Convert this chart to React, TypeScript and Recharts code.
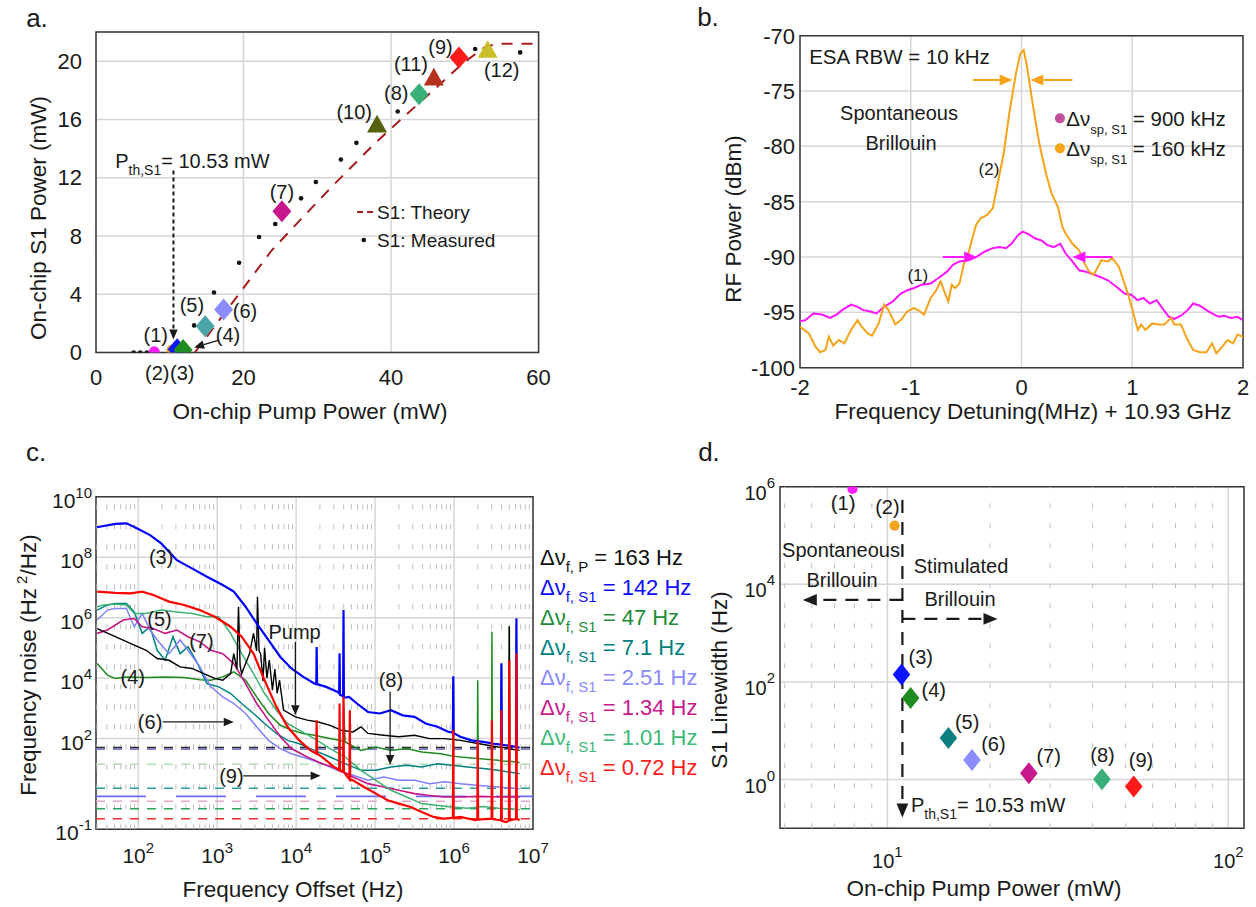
import React from 'react';
import {
  ComposedChart, Line, Scatter, XAxis, YAxis, CartesianGrid,
  ReferenceLine, ReferenceDot, ReferenceArea,
} from 'recharts';

const FONT = '"Liberation Sans", Arial, Helvetica, sans-serif';
const INK = '#1a1a1a';
const GRID = '#d6d6d6';
const FRAME = '#3a3a3a';

// ---------------- a. S1 power vs pump power ----------------
const measuredPump = [5.1, 6.0, 6.9, 13.3, 16.0, 19.4, 22.1, 24.3, 27.8, 29.8, 33.2, 35.3, 40.9, 51.4, 57.5];
const measuredS1 = [0, 0, 0, 1.86, 4.12, 6.16, 7.93, 8.82, 10.58, 11.7, 13.24, 14.39, 16.54, 20.83, 20.6];
const theoryPump = [13.4, 19.5, 23.8, 27.7, 32.0, 37.8, 40.7, 46.8, 49.6, 52.8, 54.7, 60];
const theoryS1 = [0, 4.1, 7.0, 9.1, 11.4, 14.35, 15.7, 18.5, 19.8, 21.0, 21.2, 21.2];
const markerTagsA = ['(1)', '(2)', '(3)', '(4)', '(5)', '(6)', '(7)', '(10)', '(8)', '(11)', '(9)', '(12)'];
const markerPumpA = [7.9, 10.3, 11.0, 11.8, 14.8, 17.3, 25.2, 38.1, 43.8, 45.8, 49.2, 53.1];
const markerS1A = [0.05, 0.17, 0.23, 0.17, 1.81, 2.95, 9.7, 15.67, 17.72, 18.9, 20.25, 20.8];

// ---------------- b. RF spectra ----------------
const spectrumStim: [number, number][] = [
  [-2, -96.3], [-1.92, -96.9], [-1.86, -98.1], [-1.82, -98.6], [-1.77, -98.4], [-1.74, -97.2], [-1.7, -98.0],
  [-1.65, -97.5], [-1.6, -97.8], [-1.54, -96.6], [-1.48, -95.7], [-1.45, -96.2], [-1.39, -96.9], [-1.35, -97.1],
  [-1.29, -96.0], [-1.24, -94.3], [-1.2, -94.8], [-1.14, -96.1], [-1.09, -95.7], [-1.03, -94.9], [-0.97, -94.6],
  [-0.92, -94.9], [-0.88, -95.2], [-0.82, -93.7], [-0.77, -93.0], [-0.73, -92.2], [-0.69, -93.3], [-0.66, -94.0],
  [-0.63, -92.5], [-0.6, -92.8], [-0.56, -92.4], [-0.52, -90.6], [-0.48, -89.7], [-0.45, -88.5], [-0.41, -87.1],
  [-0.37, -86.5], [-0.31, -86.2], [-0.26, -85.6], [-0.22, -83.6], [-0.16, -80.6], [-0.11, -77.0], [-0.05, -73.4],
  [-0.01, -71.6], [0.02, -71.3], [0.05, -72.8], [0.1, -76.1], [0.16, -79.7], [0.22, -82.4], [0.27, -84.2],
  [0.33, -85.5], [0.37, -87.3], [0.4, -87.9], [0.46, -88.8], [0.52, -89.4], [0.57, -90.6], [0.61, -91.3],
  [0.65, -91.6], [0.69, -90.9], [0.72, -90.3], [0.78, -90.4], [0.82, -90.1], [0.88, -90.9], [0.93, -92.4],
  [0.97, -93.6], [1.01, -95.1], [1.05, -96.6], [1.08, -96.1], [1.12, -96.6], [1.18, -96.0], [1.23, -96.1],
  [1.29, -96.1], [1.35, -95.5], [1.38, -96.1], [1.44, -96.1], [1.5, -97.5], [1.55, -98.4], [1.61, -98.6],
  [1.67, -98.6], [1.72, -97.8], [1.76, -98.7], [1.82, -98.0], [1.86, -97.5], [1.91, -97.8], [1.95, -97.0], [2, -97.2],
];
const spectrumSpont: [number, number][] = [
  [-2, -95.8], [-1.95, -95.7], [-1.88, -95.1], [-1.8, -95.2], [-1.73, -95.5], [-1.67, -95.2], [-1.62, -94.8],
  [-1.54, -94.3], [-1.48, -94.5], [-1.43, -94.8], [-1.37, -94.9], [-1.31, -95.1], [-1.24, -94.5], [-1.16, -94.0],
  [-1.09, -93.3], [-1.03, -93.0], [-0.97, -92.8], [-0.9, -92.5], [-0.82, -92.4], [-0.75, -91.9], [-0.67, -91.3],
  [-0.62, -90.7], [-0.56, -90.4], [-0.48, -90.3], [-0.41, -90.0], [-0.33, -89.5], [-0.26, -89.2], [-0.2, -89.1],
  [-0.14, -89.2], [-0.09, -88.8], [-0.03, -88.0], [0.01, -87.7], [0.06, -87.9], [0.12, -88.3], [0.18, -88.5],
  [0.23, -88.9], [0.29, -89.1], [0.35, -88.8], [0.4, -89.7], [0.46, -90.4], [0.52, -91.2], [0.57, -91.3],
  [0.63, -91.5], [0.71, -91.8], [0.78, -92.1], [0.86, -92.7], [0.93, -93.3], [0.99, -93.4], [1.05, -93.9],
  [1.1, -93.7], [1.16, -94.2], [1.22, -93.9], [1.27, -94.6], [1.33, -95.4], [1.38, -95.6], [1.44, -95.3],
  [1.5, -94.8], [1.55, -94.2], [1.61, -94.4], [1.67, -94.8], [1.72, -95.1], [1.78, -95.4], [1.83, -95.3],
  [1.89, -95.5], [1.95, -95.4], [2, -95.7],
];
const linewidthLegendB = ['900 kHz', '160 kHz'];

// ---------------- c. frequency noise (log10 Hz, log10 Hz^2/Hz) ----------------
const noiseS1_4: [number, number][] = [
  [1.48, 4.48], [1.61, 4.1], [1.71, 3.99], [1.85, 4.04], [2.1, 4.02], [2.34, 4.04], [2.58, 4.02], [2.78, 3.95],
  [2.92, 3.93], [3.07, 4.04], [3.21, 4.21], [3.36, 3.93], [3.5, 3.38], [3.65, 2.83], [3.8, 2.44], [3.94, 2.28],
  [4.09, 2.17], [4.23, 2.11], [4.43, 2.0], [4.6, 1.92], [4.6, 3.2], [4.62, 1.89], [4.82, 1.61], [5.01, 1.72],
  [5.2, 1.61], [5.4, 1.67], [5.59, 1.56], [5.83, 1.5], [5.985, 1.42], [5.99, 3.99], [5.995, 1.42], [6.08, 1.39],
  [6.295, 1.34], [6.3, 3.93], [6.305, 1.34], [6.475, 1.3], [6.48, 5.53], [6.485, 1.3], [6.56, 1.28], [6.595, 1.27],
  [6.6, 4.4], [6.605, 1.26], [6.695, 1.25], [6.7, 5.72], [6.705, 1.25], [6.785, 1.23], [6.79, 5.48], [6.795, 1.23],
  [6.83, 1.2],
];
const noiseS1_5: [number, number][] = [
  [1.48, 6.25], [1.61, 6.42], [1.71, 6.47], [1.85, 6.47], [1.95, 6.19], [2.05, 5.48], [2.15, 5.7], [2.24, 4.92],
  [2.34, 4.59], [2.44, 5.37], [2.53, 4.81], [2.63, 5.04], [2.73, 4.59], [2.87, 3.82], [3.02, 3.71], [3.17, 3.49],
  [3.31, 3.16], [3.46, 2.83], [3.6, 2.5], [3.75, 2.17], [3.89, 1.94], [4.04, 1.83], [4.23, 1.61], [4.43, 1.39],
  [4.62, 1.17], [4.82, 0.95], [5.01, 0.95], [5.2, 1.06], [5.4, 1.12], [5.59, 1.06], [5.79, 1.17], [5.98, 1.12],
  [6.17, 1.06], [6.37, 1.01], [6.56, 0.95], [6.83, 0.84],
];
const noiseS1_6: [number, number][] = [
  [1.48, 5.92], [1.61, 6.25], [1.71, 6.3], [1.85, 6.3], [1.95, 5.7], [2.05, 6.14], [2.15, 5.59], [2.24, 5.26],
  [2.39, 4.81], [2.53, 5.26], [2.63, 4.92], [2.78, 4.37], [2.92, 3.71], [3.07, 3.38], [3.21, 3.16], [3.36, 2.83],
  [3.5, 2.39], [3.65, 1.94], [3.8, 1.67], [3.94, 1.5], [4.14, 1.34], [4.33, 1.17], [4.52, 0.95], [4.72, 0.79],
  [4.91, 0.62], [5.11, 0.73], [5.3, 0.62], [5.5, 0.62], [5.69, 0.51], [5.88, 0.57], [6.08, 0.51], [6.32, 0.45],
  [6.56, 0.4], [6.83, 0.34],
];
const noiseS1_7: [number, number][] = [
  [1.48, 5.48], [1.61, 5.59], [1.81, 5.92], [1.95, 5.97], [2.05, 5.7], [2.19, 5.64], [2.34, 5.48], [2.49, 5.59],
  [2.63, 5.37], [2.78, 5.2], [2.92, 4.92], [3.07, 4.81], [3.21, 4.48], [3.36, 3.82], [3.5, 3.16], [3.65, 2.61],
  [3.8, 2.06], [3.94, 1.67], [4.14, 1.39], [4.33, 1.17], [4.52, 1.01], [4.72, 0.73], [4.91, 0.51], [5.11, 0.4],
  [5.3, 0.29], [5.5, 0.18], [5.69, 0.12], [5.88, 0.07], [6.08, 0.07], [6.32, 0.09], [6.56, 0.07], [6.83, 0.07],
];
const noiseS1_8: [number, number][] = [
  [1.48, 6.36], [1.56, 6.42], [1.71, 6.45], [1.85, 6.42], [1.95, 6.14], [2.1, 6.14], [2.29, 6.25], [2.49, 6.19],
  [2.68, 6.14], [2.87, 6.03], [3.02, 6.03], [3.17, 5.48], [3.31, 4.81], [3.46, 4.15], [3.6, 3.49], [3.75, 2.94],
  [3.89, 2.5], [4.04, 2.28], [4.23, 2.0], [4.43, 1.67], [4.62, 1.39], [4.82, 0.95], [5.01, 0.62], [5.2, 0.29],
  [5.4, 0.07], [5.59, -0.15], [5.79, -0.21], [5.98, -0.26], [6.17, -0.3], [6.37, -0.25], [6.56, -0.3], [6.83, -0.35],
];
const noisePump: [number, number][] = [
  [1.48, 5.64], [1.71, 5.37], [1.9, 5.15], [2.1, 4.92], [2.24, 4.65], [2.39, 4.59], [2.53, 4.37], [2.68, 4.32],
  [2.83, 4.15], [2.97, 3.99], [3.07, 3.93], [3.17, 4.15], [3.21, 4.81], [3.25, 4.3], [3.27, 6.36], [3.29, 4.4],
  [3.31, 4.15], [3.41, 4.81], [3.46, 5.48], [3.5, 4.9], [3.51, 6.69], [3.53, 4.9], [3.55, 4.81], [3.58, 3.9],
  [3.6, 5.0], [3.63, 4.0], [3.66, 4.6], [3.7, 3.6], [3.73, 4.3], [3.76, 3.5], [3.79, 3.93], [3.84, 2.94],
  [3.99, 2.72], [4.14, 2.61], [4.28, 2.55], [4.43, 2.44], [4.57, 2.28], [4.72, 2.22], [4.82, 2.39], [4.91, 2.17],
  [5.11, 2.11], [5.3, 2.06], [5.5, 2.11], [5.69, 2.0], [5.88, 2.0], [6.08, 1.94], [6.32, 1.83], [6.56, 1.72],
  [6.695, 1.68], [6.7, 5.7], [6.705, 1.66], [6.83, 1.61],
];
const noiseS1_3: [number, number][] = [
  [1.476, 8.99], [1.71, 9.1], [1.85, 9.12], [1.95, 9.0], [2.15, 8.73], [2.29, 8.46], [2.49, 7.9], [2.68, 7.63],
  [2.87, 7.35], [3.07, 7.08], [3.21, 6.86], [3.36, 6.36], [3.5, 5.81], [3.65, 5.26], [3.8, 4.7], [3.94, 4.32],
  [4.09, 4.04], [4.23, 3.82], [4.255, 3.8], [4.26, 5.03], [4.265, 3.8], [4.38, 3.71], [4.52, 3.55], [4.545, 3.5],
  [4.55, 4.82], [4.555, 3.45], [4.595, 3.4], [4.6, 6.25], [4.605, 3.35], [4.67, 3.38], [4.77, 3.16], [4.91, 2.88],
  [5.06, 2.83], [5.2, 2.94], [5.35, 2.77], [5.5, 2.72], [5.64, 2.5], [5.79, 2.39], [5.93, 2.22], [5.985, 2.2],
  [5.99, 4.06], [5.995, 2.18], [6.08, 2.06], [6.22, 1.94], [6.37, 1.89], [6.51, 1.83], [6.595, 1.8], [6.6, 4.49],
  [6.605, 1.79], [6.66, 1.78], [6.785, 1.73], [6.79, 5.98], [6.795, 1.72], [6.83, 1.7],
];
const noiseS1_9: [number, number][] = [
  [1.48, 6.86], [1.71, 6.82], [1.9, 6.8], [2.05, 6.86], [2.19, 6.75], [2.39, 6.53], [2.58, 6.42], [2.78, 6.25],
  [2.97, 6.03], [3.17, 5.7], [3.31, 5.37], [3.46, 4.81], [3.6, 3.93], [3.75, 3.05], [3.89, 2.39], [4.04, 1.94],
  [4.18, 1.61], [4.255, 1.5], [4.26, 2.61], [4.265, 1.5], [4.33, 1.39], [4.48, 1.06], [4.545, 0.96], [4.55, 3.16],
  [4.555, 0.94], [4.595, 0.9], [4.6, 3.38], [4.605, 0.88], [4.675, 0.65], [4.68, 2.94], [4.685, 0.64], [4.72, 0.62],
  [4.86, 0.4], [5.01, 0.18], [5.16, -0.04], [5.3, -0.15], [5.45, -0.26], [5.59, -0.43], [5.74, -0.59], [5.88, -0.65],
  [5.985, -0.62], [5.99, 2.28], [5.995, -0.62], [6.08, -0.59], [6.27, -0.7], [6.295, -0.68], [6.3, 1.94],
  [6.305, -0.68], [6.475, -0.65], [6.48, 2.61], [6.485, -0.66], [6.595, -0.7], [6.6, 2.94], [6.605, -0.72],
  [6.66, -0.76], [6.695, -0.72], [6.7, 4.59], [6.705, -0.7], [6.785, -0.66], [6.79, 4.81], [6.795, -0.65], [6.83, -0.7],
];
// flat linewidth levels (log10 of Hz^2/Hz) drawn as dashed lines
const floorLevelsC = [1.7, 1.645, 1.15, 0.36, 0.09, -0.07, -0.32, -0.65];
const legendSubC = ['f, P', 'f, S1', 'f, S1', 'f, S1', 'f, S1', 'f, S1', 'f, S1', 'f, S1'];
const legendValueC = ['163 Hz', '142 Hz', '47 Hz', '7.1 Hz', '2.51 Hz', '1.34 Hz', '1.01 Hz', '0.72 Hz'];

// ---------------- d. linewidth vs pump ----------------
const markerTagsD = ['(1)', '(2)', '(3)', '(4)', '(5)', '(6)', '(7)', '(8)', '(9)'];
const pumpD = [7.9, 10.5, 11.0, 11.7, 15.1, 17.7, 26.0, 42.6, 52.8];
const linewidthD = [900000, 160000, 142, 47, 7.1, 2.51, 1.34, 1.01, 0.72];

// ---------------- styles ----------------
const markerShapeA = ['circle', 'circle', 'diamond', 'diamond', 'diamond', 'diamond', 'diamond', 'triangle', 'diamond', 'triangle', 'diamond', 'triangle'];
const markerColorA = ['#ff1cff', '#f5a21f', '#0a14ff', '#1e8c1e', '#4aa6a6', '#8c8cff', '#c8188c', '#56620e', '#3aaf78', '#b4321e', '#ff1a1a', '#c8be28'];
const labelPosA: [number, number][] = [[8.1, 1.2], [8.3, -1.4], [11.7, -1.4], [17.9, 1.2], [13.0, 3.25], [20.2, 2.85], [25.2, 11.0], [35.0, 16.5], [40.7, 17.85], [42.7, 19.8], [46.7, 21.0], [55.0, 19.4]];
const markerShapeD = ['circle', 'circle', 'diamond', 'diamond', 'diamond', 'diamond', 'diamond', 'diamond', 'diamond'];
const markerColorD = ['#ff1cff', '#f5a21f', '#0a14ff', '#1e8c1e', '#0b7f7f', '#8c8cff', '#c8188c', '#3aaf78', '#ff1a1a'];
const labelPosD: [number, number][] = [[0.87, 5.66], [1.0, 5.58], [1.098, 2.51], [1.136, 1.83], [1.234, 1.19], [1.311, 0.74], [1.473, 0.48], [1.631, 0.51], [1.744, 0.4]];
const noiseColorC = ['#1f8a1f', '#008080', '#8080ff', '#c71585', '#3cb371', '#000000', '#0000ff', '#ff0000'];
const noiseWidthC = [1.5, 1.5, 1.5, 1.6, 1.5, 1.4, 2.2, 2.2];
const floorColorC = ['#2a2a2a', '#7c7cd8', '#b4dcb4', '#2a9d9d', '#6a6aff', '#e6a6cc', '#2aa55c', '#ff2a2a'];
const floorDashC = ['9 8', '9 8', '9 8', '9 8', '50 30', '9 8', '9 8', '9 8'];
const legendColorC = ['#111111', '#0a0aff', '#228b3a', '#00807f', '#8a8aff', '#c8188c', '#3cb878', '#ff1a1a'];

const toPts = (arr: [number, number][]) => arr.map(([x, y]) => ({ x, y }));
const zip = (xs: number[], ys: number[]) => xs.map((x, i) => ({ x, y: ys[i] }));

const drawMarker = (kind: string, color: string, cx: number, cy: number, w: number, h: number) => {
  if (kind === 'circle') return <circle cx={cx} cy={cy} r={w * 0.58} fill={color} />;
  if (kind === 'triangle')
    return <polygon points={`${cx},${cy - h * 0.85} ${cx + w},${cy + h * 0.75} ${cx - w},${cy + h * 0.75}`} fill={color} />;
  return <polygon points={`${cx},${cy - h} ${cx + w},${cy} ${cx},${cy + h} ${cx - w},${cy}`} fill={color} />;
};

const arrowShape = (color: string, width: number, dash: string | undefined, head: number) => (p: any) => {
  const { x1, y1, x2, y2 } = p;
  const a = Math.atan2(y2 - y1, x2 - x1);
  const hw = head * 0.42;
  const bx = x2 - head * Math.cos(a);
  const by = y2 - head * Math.sin(a);
  return (
    <g>
      <line x1={x1} y1={y1} x2={bx} y2={by} stroke={color} strokeWidth={width} strokeDasharray={dash} />
      <polygon
        points={`${x2},${y2} ${bx + hw * Math.sin(a)},${by - hw * Math.cos(a)} ${bx - hw * Math.sin(a)},${by + hw * Math.cos(a)}`}
        fill={color}
      />
    </g>
  );
};

function arrow(key: string, x1: number, y1: number, x2: number, y2: number, color = INK, width = 1.5, dash?: string, head = 11) {
  return (
    <ReferenceLine key={key} segment={[{ x: x1, y: y1 }, { x: x2, y: y2 }]} ifOverflow="visible"
      shape={arrowShape(color, width, dash, head)} />
  );
}

function note(key: string, x: number, y: number, body: React.ReactNode, size = 20, anchor = 'middle', color = INK) {
  return (
    <ReferenceDot key={key} x={x} y={y} r={0} ifOverflow="visible"
      shape={(p: any) => (
        <text x={p.cx} y={p.cy} dy="0.36em" fontSize={size} textAnchor={anchor} fill={color} fontFamily={FONT}>{body}</text>
      )} />
  );
}

const expText = (v: number) => (v < 0 ? `-${Math.abs(v)}` : `${v}`);

const powTickX = (dyBase: number, dyExp: number, base: number) => (p: any) => (
  <text x={p.x} y={p.y} textAnchor="middle" fill={INK} fontFamily={FONT}>
    <tspan fontSize={base} dy={dyBase}>10</tspan>
    <tspan fontSize={15} dy={dyExp}>{expText(p.payload.value)}</tspan>
  </text>
);
const powTickY = (dyBase: number, dyExp: number, base: number) => (p: any) => (
  <text x={p.x} y={p.y} textAnchor="end" fill={INK} fontFamily={FONT}>
    <tspan fontSize={base} dy={dyBase}>10</tspan>
    <tspan fontSize={15} dy={dyExp}>{expText(p.payload.value)}</tspan>
  </text>
);

const Title = ({ x, y, rotate, size = 22.5, children }: any) => (
  <div style={{
    position: 'absolute', left: x, top: y, whiteSpace: 'nowrap', fontSize: size, color: INK,
    transform: `translate(-50%, -50%)${rotate ? ' rotate(-90deg)' : ''}`, lineHeight: 1,
  }}>{children}</div>
);

const sub = (t: string, size = 14, shift = 6) => (
  <span style={{ fontSize: size, position: 'relative', top: shift }}>{t}</span>
);

function PanelA() {
  const measured = zip(measuredPump, measuredS1);
  const theory = zip(theoryPump, theoryS1);
  const markers = markerPumpA.map((x, i) => ({ x, y: markerS1A[i], shape: markerShapeA[i], color: markerColorA[i] }));
  return (
    <ComposedChart width={560} height={400} margin={{ top: 32, right: 21.4, bottom: 7.5, left: 26 }}>
      <CartesianGrid stroke={GRID} strokeWidth={1.5} />
      <XAxis type="number" dataKey="x" domain={[0, 60]} ticks={[0, 20, 40, 60]} allowDataOverflow height={40}
        axisLine={false} tickLine={false} tickSize={0} tickMargin={17} tick={{ fill: INK, fontSize: 22 }} />
      <YAxis type="number" dataKey="y" domain={[0, 22]} ticks={[0, 4, 8, 12, 16, 20]} allowDataOverflow width={70}
        axisLine={false} tickLine={false} tickSize={0} tickMargin={14} tick={{ fill: INK, fontSize: 22 }} />
      <ReferenceArea x1={0} x2={60} y1={0} y2={22} fill="none" stroke={FRAME} strokeWidth={1.5} />
      <Line data={theory} dataKey="y" stroke="#a51d1d" strokeWidth={2} strokeDasharray="11 9" dot={false}
        activeDot={false} isAnimationActive={false} />
      <Scatter data={measured} isAnimationActive={false}
        shape={(p: any) => <circle cx={p.cx} cy={p.cy} r={2.3} fill="#111" />} />
      <Scatter data={markers} isAnimationActive={false}
        shape={(p: any) => drawMarker(p.payload.shape, p.payload.color, p.cx, p.cy, p.payload.shape === 'triangle' ? 10 : 9.5, 11)} />
      {arrow('th', 10.5, 12.5, 10.5, 0.9, INK, 2, '4 3', 10)}
      {arrow('l4', 16.7, 0.85, 13.3, 0.35, INK, 1.3, undefined, 10)}
      {note('pth', 2.6, 13.15, <>
        <tspan>P</tspan><tspan fontSize={14} dy={7}>th,S1</tspan><tspan dy={-7}>= 10.53 mW</tspan>
      </>, 20, 'start')}
      {markerTagsA.map((t, i) => note(`ta${i}`, labelPosA[i][0], labelPosA[i][1], t, 20))}
      {arrow('legT', 35.4, 9.64, 37.6, 9.64, '#a51d1d', 2, '6 4', 0.1)}
      {note('legTt', 38.1, 9.64, 'S1: Theory', 19, 'start')}
      <ReferenceDot x={36.3} y={7.72} r={2.3} fill="#111" stroke="none" ifOverflow="visible" />
      {note('legMt', 38.1, 7.72, 'S1: Measured', 19, 'start')}
    </ComposedChart>
  );
}

function PanelB() {
  return (
    <ComposedChart width={556} height={420} margin={{ top: 35.7, right: 13, bottom: 12.3, left: 30 }}>
      <CartesianGrid stroke={GRID} strokeWidth={1.5} />
      <XAxis type="number" dataKey="x" domain={[-2, 2]} ticks={[-2, -1, 0, 1, 2]} allowDataOverflow height={40}
        axisLine={false} tickLine={false} tickSize={0} tickMargin={12} tick={{ fill: INK, fontSize: 22 }} />
      <YAxis type="number" dataKey="y" domain={[-100, -70]} ticks={[-100, -95, -90, -85, -80, -75, -70]} allowDataOverflow
        width={70} axisLine={false} tickLine={false} tickSize={0} tickMargin={5} tick={{ fill: INK, fontSize: 22 }} />
      <ReferenceArea x1={-2} x2={2} y1={-100} y2={-70} fill="none" stroke={FRAME} strokeWidth={1.5} />
      <Line data={toPts(spectrumSpont)} dataKey="y" stroke="#ff14ff" strokeWidth={2} dot={false} activeDot={false}
        isAnimationActive={false} />
      <Line data={toPts(spectrumStim)} dataKey="y" stroke="#f5a31a" strokeWidth={2} dot={false} activeDot={false}
        isAnimationActive={false} />
      {arrow('o1', -0.44, -74.0, -0.08, -74.0, '#f5a31a', 2, undefined, 13)}
      {arrow('o2', 0.46, -74.0, 0.08, -74.0, '#f5a31a', 2, undefined, 13)}
      {arrow('m1', -0.71, -90.0, -0.4, -90.0, '#ff14ff', 2, undefined, 13)}
      {arrow('m2', 0.82, -90.0, 0.46, -90.0, '#ff14ff', 2, undefined, 13)}
      {note('esa', -1.917, -71.9, 'ESA RBW = 10 kHz', 20.5, 'start')}
      {note('sp1', -1.106, -77.0, 'Spontaneous', 20)}
      {note('sp2', -1.087, -79.7, 'Brillouin', 20)}
      {note('l2', -0.294, -82.0, '(2)', 17)}
      {note('l1', -0.936, -91.6, '(1)', 17)}
      <ReferenceDot x={0.347} y={-77.47} r={5} fill="#c0509e" stroke="none" ifOverflow="visible" />
      <ReferenceDot x={0.347} y={-80.18} r={5} fill="#f5a31a" stroke="none" ifOverflow="visible" />
      {linewidthLegendB.map((v, i) => note(`lg${i}`, 0.405, i === 0 ? -77.47 : -80.18, <>
        <tspan>Δν</tspan><tspan fontSize={13} dy={8}>sp, S1</tspan><tspan dy={-8}> = {v}</tspan>
      </>, 20.5, 'start'))}
    </ComposedChart>
  );
}

function PanelC() {
  const series = [noiseS1_4, noiseS1_5, noiseS1_6, noiseS1_7, noiseS1_8, noisePump, noiseS1_3, noiseS1_9];
  const minor: number[] = [];
  for (let n = 1; n <= 6; n++) for (let k = 2; k <= 9; k++) {
    const v = Math.log10(k * Math.pow(10, n));
    if (v > 1.47 && v < 7) minor.push(v);
  }
  return (
    <ComposedChart width={565} height={440} margin={{ top: 56.7, right: 32, bottom: 10.7, left: 26 }}>
      <CartesianGrid stroke={GRID} strokeWidth={1.5} />
      {minor.map((v) => (
        <ReferenceLine key={`mx${v}`} x={v} stroke="#bdbdbd" strokeWidth={1} strokeDasharray="5 15" />
      ))}
      <XAxis type="number" dataKey="x" domain={[1.465, 7]} ticks={[2, 3, 4, 5, 6, 7]} allowDataOverflow height={40}
        axisLine={false} tickLine={false} tickSize={0} tickMargin={0} tick={powTickX(34, -10, 21)} />
      <YAxis type="number" dataKey="y" domain={[-1, 10]} ticks={[-1, 2, 4, 6, 8, 10]} allowDataOverflow width={70}
        axisLine={false} tickLine={false} tickSize={0} tickMargin={4} tick={powTickY(11, -10, 21)} />
      <ReferenceArea x1={1.465} x2={7} y1={-1} y2={10} fill="none" stroke={FRAME} strokeWidth={1.5} />
      {floorLevelsC.map((v, i) => (
        <ReferenceLine key={`fl${i}`} y={v} stroke={floorColorC[i]} strokeWidth={1.6} strokeDasharray={floorDashC[i]} />
      ))}
      {series.map((s, i) => (
        <Line key={`ns${i}`} data={toPts(s)} dataKey="y" stroke={noiseColorC[i]} strokeWidth={noiseWidthC[i]}
          dot={false} activeDot={false} isAnimationActive={false} />
      ))}
      {note('c3', 2.29, 8.0, '(3)', 20)}
      {note('c5', 2.27, 5.96, '(5)', 20)}
      {note('c7', 2.8, 5.24, '(7)', 20)}
      {note('c4', 1.93, 4.03, '(4)', 20)}
      {note('c6', 2.15, 2.55, '(6)', 20)}
      {arrow('a6', 2.31, 2.55, 3.21, 2.55, INK, 1.3, undefined, 10)}
      {note('c9', 3.18, 0.77, '(9)', 20)}
      {arrow('a9', 3.33, 0.77, 4.31, 0.77, INK, 1.3, undefined, 10)}
      {note('c8', 5.2, 3.93, '(8)', 20)}
      {arrow('a8', 5.19, 3.55, 5.19, 1.13, INK, 1.3, undefined, 10)}
      {note('pump', 3.98, 5.53, 'Pump', 20)}
      {arrow('ap', 3.99, 5.2, 3.99, 2.77, INK, 1.3, undefined, 10)}
    </ComposedChart>
  );
}

function PanelD() {
  const pts = pumpD.map((p, i) => ({
    x: Math.log10(p), y: Math.log10(linewidthD[i]), shape: markerShapeD[i], color: markerColorD[i],
  }));
  const minor: number[] = [];
  for (let n = 0; n <= 1; n++) for (let k = 2; k <= 9; k++) {
    const v = Math.log10(k * Math.pow(10, n));
    if (v > 0.69 && v < 2.04) minor.push(v);
  }
  return (
    <ComposedChart width={566} height={440} margin={{ top: 46.7, right: 12, bottom: 11.7, left: 20 }}>
      <CartesianGrid stroke={GRID} strokeWidth={1.5} />
      {minor.map((v) => (
        <ReferenceLine key={`md${v}`} x={v} stroke="#bdbdbd" strokeWidth={1} strokeDasharray="5 15" />
      ))}
      <XAxis type="number" dataKey="x" domain={[0.685, 2.046]} ticks={[1, 2]} allowDataOverflow height={40}
        axisLine={false} tickLine={false} tickSize={0} tickMargin={0} tick={powTickX(40, -11, 20)} />
      <YAxis type="number" dataKey="y" domain={[-1, 6]} ticks={[0, 2, 4, 6]} allowDataOverflow width={70}
        axisLine={false} tickLine={false} tickSize={0} tickMargin={5} tick={powTickY(13, -12, 20)} />
      <ReferenceArea x1={0.685} x2={2.046} y1={-1} y2={6} fill="none" stroke={FRAME} strokeWidth={1.5} />
      {arrow('th', 1.044, 5.73, 1.044, -0.78, INK, 2.2, '13 9', 14)}
      {arrow('lft', 1.044, 3.68, 0.752, 3.68, INK, 2.2, '13 9', 14)}
      {arrow('rgt', 1.044, 3.29, 1.323, 3.29, INK, 2.2, '13 9', 14)}
      <Scatter data={pts} isAnimationActive={false}
        shape={(p: any) => drawMarker(p.payload.shape, p.payload.color, p.cx, p.cy, 8.8, 11)} />
      {markerTagsD.map((t, i) => note(`td${i}`, labelPosD[i][0], labelPosD[i][1], t, 20))}
      {note('sp', 0.864, 4.7, 'Spontaneous', 20)}
      {note('sb', 0.867, 4.09, 'Brillouin', 20)}
      {note('st', 1.216, 4.38, 'Stimulated', 20)}
      {note('stb', 1.213, 3.7, 'Brillouin', 20)}
      {note('pth', 1.069, -0.51, <>
        <tspan>P</tspan><tspan fontSize={14} dy={7}>th,S1</tspan><tspan dy={-7}>= 10.53 mW</tspan>
      </>, 20, 'start')}
    </ComposedChart>
  );
}

export default function App() {
  return (
    <div style={{ position: 'absolute', left: 0, top: 0, width: 1256, height: 907, background: '#fff', fontFamily: FONT, color: INK, overflow: 'hidden' }}>
      <div style={{ position: 'absolute', left: 0, top: 0 }}><PanelA /></div>
      <div style={{ position: 'absolute', left: 700, top: 0 }}><PanelB /></div>
      <div style={{ position: 'absolute', left: 0, top: 440 }}><PanelC /></div>
      <div style={{ position: 'absolute', left: 690, top: 440 }}><PanelD /></div>

      <Title x={37} y={18} size={26}>a.</Title>
      <Title x={708} y={17} size={26}>b.</Title>
      <Title x={36} y={452} size={26}>c.</Title>
      <Title x={709} y={452} size={26}>d.</Title>

      <Title x={39} y={218} rotate>On-chip S1 Power (mW)</Title>
      <Title x={310} y={412}>On-chip Pump Power (mW)</Title>
      <Title x={734} y={219} rotate>RF Power (dBm)</Title>
      <Title x={1033} y={412}>Frequency Detuning(MHz) + 10.93 GHz</Title>
      <Title x={29} y={665} rotate>Frequency noise (Hz<span style={{ fontSize: 15, position: 'relative', top: -9 }}> 2</span>/Hz)</Title>
      <Title x={293} y={890}>Frequency Offset (Hz)</Title>
      <Title x={720} y={680} rotate>S1 Linewidth (Hz)</Title>
      <Title x={984} y={889}>On-chip Pump Power (mW)</Title>

      {legendValueC.map((v, i) => (
        <div key={v} style={{ position: 'absolute', left: 540, top: 558 + 30 * i - 13, whiteSpace: 'nowrap', fontSize: 22, lineHeight: '26px', color: legendColorC[i] }}>
          Δν{sub(legendSubC[i], 15, 7)} = {v}
        </div>
      ))}
    </div>
  );
}
